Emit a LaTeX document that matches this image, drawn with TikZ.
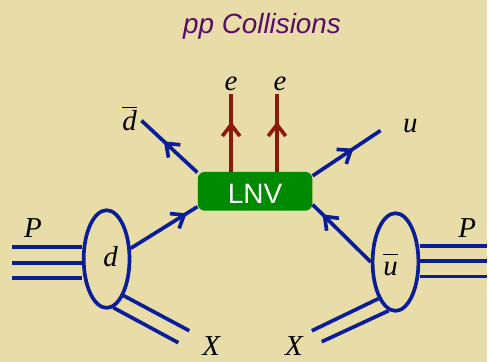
\documentclass[tikz,border=0pt]{standalone}
\usepackage{fontspec}
\setmainfont{Liberation Serif}
\setsansfont{Liberation Sans}
\usetikzlibrary{arrows.meta,decorations.markings,shapes.geometric}
\definecolor{paper}{HTML}{E8DDA8}
\definecolor{quark}{HTML}{0A1E9A}
\definecolor{lepton}{HTML}{8B1A0A}
\definecolor{vertex}{HTML}{008A00}
\definecolor{heading}{HTML}{5A0A6A}
\tikzset{
    quarkline/.style={draw=quark,line width=2.1pt},
    leptonline/.style={draw=lepton,line width=2.1pt},
    flow/.style={postaction={decorate},decoration={markings,
        mark=at position #1 with {\arrow[line width=2.1pt]{Straight Barb[length=6.5pt,width=10pt]}}}},
    blob/.style={ellipse,draw=quark,line width=2.1pt,minimum width=0.92cm,minimum height=1.96cm,inner sep=0pt},
    lab/.style={font=\fontsize{16.5}{16.5}\selectfont\itshape,text=black,inner sep=0pt},
}
\begin{document}
\begin{tikzpicture}[x=0.02cm,y=-0.02cm]
    \fill[paper] (0,0) rectangle (489,363);
    \node[font=\sffamily\itshape\fontsize{15.9}{16}\selectfont,text=heading] (title) at (263,26) {pp Collisions};
    \node[fill=vertex,rounded corners=4pt,minimum width=2.3cm,minimum height=0.78cm,inner sep=0pt] (lnv) at (256,192) {};
    \node[font=\sffamily\fontsize{16}{16}\selectfont,text=white,inner sep=0pt] (lnvlab) at (256,195) {LNV};
    \node[blob] (dblob) at (107,260) {};
    \node[blob] (ublob) at (397,263) {};
    % labels
    \node[lab] (dlab) at (111,258) {d};
    \node[lab] (ulab) at (392,266) {$\overline{\vphantom{t}\mbox{\itshape u}}$};
    \node[lab] (Pl) at (33,229) {P};
    \node[lab] (Pr) at (469,229) {P};
    \node[lab] (Xl) at (212,347) {X};
    \node[lab] (Xr) at (295,347) {X};
    \node[lab] (e1) at (232,84) {e};
    \node[lab] (e2) at (281,84) {e};
    \node[lab] (dbar) at (130,119) {$\overline{\mbox{\itshape d}}$};
    \node[lab] (ulep) at (412,127) {u};
    % free ends
    \coordinate (pl1) at (12,248);
    \coordinate (pl2) at (12,264);
    \coordinate (pl3) at (12,279);
    \coordinate (pr1) at (489,247);
    \coordinate (pr2) at (489,262);
    \coordinate (pr3) at (489,277.5);
    \coordinate (xl1) at (190,332);
    \coordinate (xl2) at (179,344);
    \coordinate (xr1) at (313,332);
    \coordinate (xr2) at (323,343);
    \coordinate (end1) at (232,94);
    \coordinate (end2) at (278,94);
    \coordinate (endd) at (142,121);
    \coordinate (endu) at (382,131);
    % proton lines
    \draw[quarkline] (pl1) -- (dblob.west |- pl1);
    \draw[quarkline] (pl2) -- (dblob.west |- pl2);
    \draw[quarkline] (pl3) -- (dblob.west |- pl3);
    \draw[quarkline] (pr1) -- (ublob.east |- pr1);
    \draw[quarkline] (pr2) -- (ublob.east |- pr2);
    \draw[quarkline] (pr3) -- (ublob.east |- pr3);
    % remnants
    \draw[quarkline] (dblob.-65) -- (xl1);
    \draw[quarkline] (dblob.-82) -- (xl2);
    \draw[quarkline] (ublob.-115) -- (xr1);
    \draw[quarkline] (ublob.-98) -- (xr2);
    % partons
    \draw[quarkline,flow=0.84] (dblob.24) -- (lnv.-165);
    \draw[quarkline,flow=0.83] (ublob.180) -- (lnv.-13);
    \draw[quarkline,flow=0.60] (lnv.162) -- (endd);
    \draw[quarkline,flow=0.60] (lnv.15) -- (endu);
    \draw[leptonline,flow=0.64] (lnv.north -| end1) -- (end1);
    \draw[leptonline,flow=0.64] (lnv.north -| end2) -- (end2);
\end{tikzpicture}
\end{document}
